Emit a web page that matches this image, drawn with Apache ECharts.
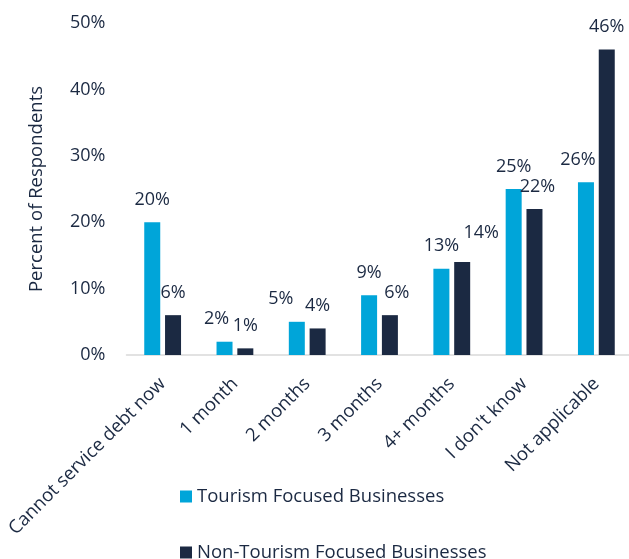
<!DOCTYPE html>
<html>
<head>
<meta charset="utf-8">
<style>
  html, body { margin: 0; padding: 0; background: #ffffff; }
  #chart { width: 629px; height: 559px; }
</style>
<script src="https://cdn.jsdelivr.net/npm/echarts@6/dist/echarts.min.js"></script>
</head>
<body>
<div id="chart"></div>
<script>
// Months a business can keep servicing its debt
const categories = [
  'Cannot service debt now', '1 month', '2 months', '3 months',
  '4+ months', "I don't know", 'Not applicable'
];
const tourismValues = [20, 2, 5, 9, 13, 25, 26];
const nonTourismValues = [6, 1, 4, 6, 14, 22, 46];
const seriesNames = ['Tourism Focused Businesses', 'Non-Tourism Focused Businesses'];
const yTicks = [0, 10, 20, 30, 40, 50];

const textColor = '#1b2942';
const fontFamily = '"Open Sans", sans-serif';
const numberSize = 18;   // tick and value labels
const wordSize = 18.5;   // category labels, axis name, legend

// a few value labels are nudged sideways so neighbouring labels don't collide
const labelNudges = [
  { 1: [-8, 0], 2: [-16, 0], 6: [-8, 0] },
  { 3: [7, 0], 4: [19, -7], 5: [3, 0] }
];

const chart = echarts.init(document.getElementById('chart'));

function barSeries(idx, values, color) {
  return {
    name: seriesNames[idx],
    type: 'bar',
    data: values.map((v, i) => {
      const nudge = labelNudges[idx][i];
      return nudge ? { value: v, label: { offset: nudge } } : v;
    }),
    barWidth: 16,
    barGap: '30%',
    itemStyle: { color: color },
    label: {
      show: true,
      position: 'top',
      distance: 13.5,
      color: textColor,
      fontFamily: fontFamily,
      fontSize: numberSize,
      formatter: p => Math.round(p.value) + '%'
    }
  };
}

function legendFor(name, top) {
  return {
    left: 180, top: top, padding: 0,
    itemWidth: 12, itemHeight: 12,
    icon: 'rect',
    textStyle: { color: textColor, fontSize: wordSize, fontFamily: fontFamily },
    data: [name]
  };
}

chart.setOption({
  animation: false,
  textStyle: { fontFamily: fontFamily, color: textColor },
  grid: {
    left: 126.5, top: 23, width: 506, height: 332,
    containLabel: false, outerBoundsMode: 'none'
  },
  legend: [
    legendFor(seriesNames[0], 487),
    legendFor(seriesNames[1], 543)
  ],
  xAxis: {
    type: 'category',
    data: categories,
    axisLine: { show: true, lineStyle: { color: '#d9d9d9', width: 1.5 } },
    axisTick: { show: false },
    axisLabel: {
      rotate: 45, interval: 0, margin: 26,
      color: textColor, fontSize: wordSize, fontFamily: fontFamily
    }
  },
  yAxis: {
    type: 'value',
    min: yTicks[0], max: yTicks[yTicks.length - 1], interval: 10,
    name: 'Percent of Respondents',
    nameLocation: 'middle',
    nameRotate: 90,
    nameGap: 80,
    nameTextStyle: { color: textColor, fontSize: wordSize, fontFamily: fontFamily },
    axisLine: { show: false },
    axisTick: { show: false },
    splitLine: { show: false },
    axisLabel: {
      margin: 21, color: textColor, fontSize: numberSize, fontFamily: fontFamily,
      formatter: v => v + '%'
    }
  },
  series: [
    barSeries(0, tourismValues, '#00a5d9'),
    barSeries(1, nonTourismValues, '#1b2942')
  ]
});
</script>
</body>
</html>
